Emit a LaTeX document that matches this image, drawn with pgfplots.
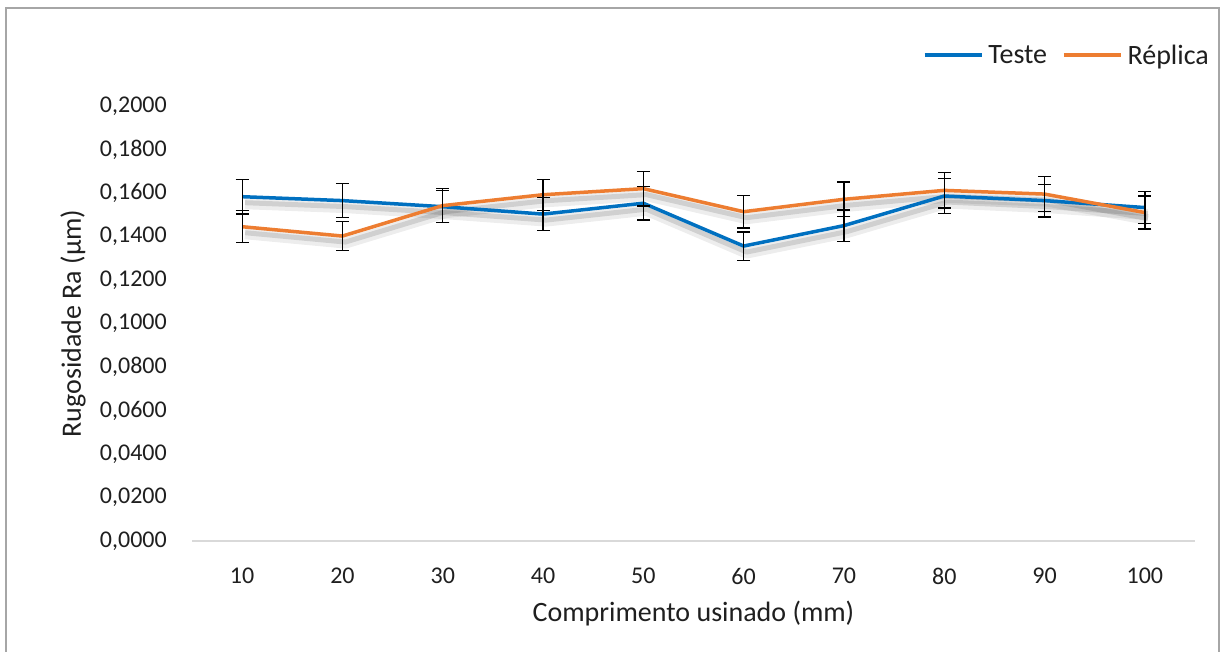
\documentclass[border=0pt]{standalone}
\usepackage{pgfplots}
\pgfplotsset{compat=1.18}
\usepackage{pgfplotstable}
\usepackage{fontspec}
\setmainfont{Carlito}

\definecolor{serieA}{HTML}{0070C0}
\definecolor{serieB}{HTML}{ED7D31}
\definecolor{eixo}{HTML}{D9D9D9}
\definecolor{moldura}{HTML}{A6A6A6}
\definecolor{texto}{HTML}{1F1F1F}

% comprimento usinado, Ra medio e desvio
\pgfplotstableread{
x   y      e
10  0.1583 0.0080
20  0.1565 0.0078
30  0.1537 0.0074
40  0.1503 0.0075
50  0.1553 0.0077
60  0.1356 0.0065
70  0.1450 0.0072
80  0.1586 0.0080
90  0.1565 0.0075
100 0.1533 0.0074
}\teste

\pgfplotstableread{
x   y      e
10  0.1445 0.0073
20  0.1402 0.0067
30  0.1542 0.0078
40  0.1592 0.0071
50  0.1620 0.0080
60  0.1514 0.0075
70  0.1571 0.0080
80  0.1612 0.0081
90  0.1595 0.0080
100 0.1510 0.0076
}\replica

\begin{document}
\begin{tikzpicture}[x=1pt,y=1pt]
\useasboundingbox (0,0) rectangle (1224,652);
\fill[white] (0,0) rectangle (1224,652);
\draw[moldura, line width=1.2pt] (6,-10) -- (6,644) -- (1219,644) -- (1219,-10);
\begin{axis}[
  at={(192pt,111pt)}, anchor=south west,
  scale only axis, width=1003pt, height=435pt,
  xmin=5, xmax=105, ymin=0, ymax=0.2,
  axis x line*=bottom, axis y line*=left,
  x axis line style={eixo, line width=1.5pt, -},
  y axis line style={draw=none},
  tick style={draw=none},
  xtick={10,20,30,40,50,60,70,80,90,100},
  ytick={0,0.02,0.04,0.06,0.08,0.1,0.12,0.14,0.16,0.18,0.2},
  scaled y ticks=false,
  /pgf/number format/assume math mode=true,
  yticklabel style={/pgf/number format/fixed, /pgf/number format/fixed zerofill,
    /pgf/number format/precision=4, /pgf/number format/use comma,
    /pgf/number format/1000 sep={}, xshift=-25pt},
  tick label style={font=\fontsize{24}{28}\selectfont, text=texto, inner sep=0pt},
  xticklabel style={yshift=-27pt},
  xlabel={Comprimento usinado (mm)},
  ylabel={Rugosidade Ra (µm)},
  label style={font=\fontsize{28}{32}\selectfont, text=texto},
  xlabel style={at={(axis description cs:0.5,0)}, anchor=center, yshift=-73pt},
  ylabel style={at={(axis description cs:-0.1186,0.5)}, anchor=center},
  legend style={at={(axis description cs:1.017,1.117)}, anchor=east, draw=none, fill=none,
    font=\fontsize{28}{32}\selectfont, text=texto,
    nodes={inner sep=0pt},
    /tikz/every odd column/.append style={column sep=5pt},
    /tikz/every even column/.append style={column sep=15pt}},
  legend columns=2,
  legend image code/.code={\draw[#1, line width=3.5pt] (0pt,0pt) -- (57pt,0pt);},
  clip=false,
]
% sombras suaves sob as linhas
\addplot[forget plot, black, opacity=0.07, line width=11pt, line join=round, xshift=3pt, yshift=-7pt] table[x=x,y=y] {\teste};
\addplot[forget plot, black, opacity=0.12, line width=5pt, line join=round, xshift=3pt, yshift=-6pt] table[x=x,y=y] {\teste};
\addplot[forget plot, black, opacity=0.07, line width=11pt, line join=round, xshift=3pt, yshift=-7pt] table[x=x,y=y] {\replica};
\addplot[forget plot, black, opacity=0.12, line width=5pt, line join=round, xshift=3pt, yshift=-6pt] table[x=x,y=y] {\replica};

\addplot[serieA, line width=3.5pt, line join=round, no marks,
  error bars/.cd, y dir=both, y explicit,
  error bar style={black, line width=1.3pt},
  error mark options={black, rotate=90, mark size=6.5pt, line width=1.3pt}]
  table[x=x, y=y, y error=e] {\teste};
\addlegendentry{Teste}

\addplot[serieB, line width=3.5pt, line join=round, no marks,
  error bars/.cd, y dir=both, y explicit,
  error bar style={black, line width=1.3pt},
  error mark options={black, rotate=90, mark size=6.5pt, line width=1.3pt}]
  table[x=x, y=y, y error=e] {\replica};
\addlegendentry{Réplica}
\end{axis}
\end{tikzpicture}
\end{document}
